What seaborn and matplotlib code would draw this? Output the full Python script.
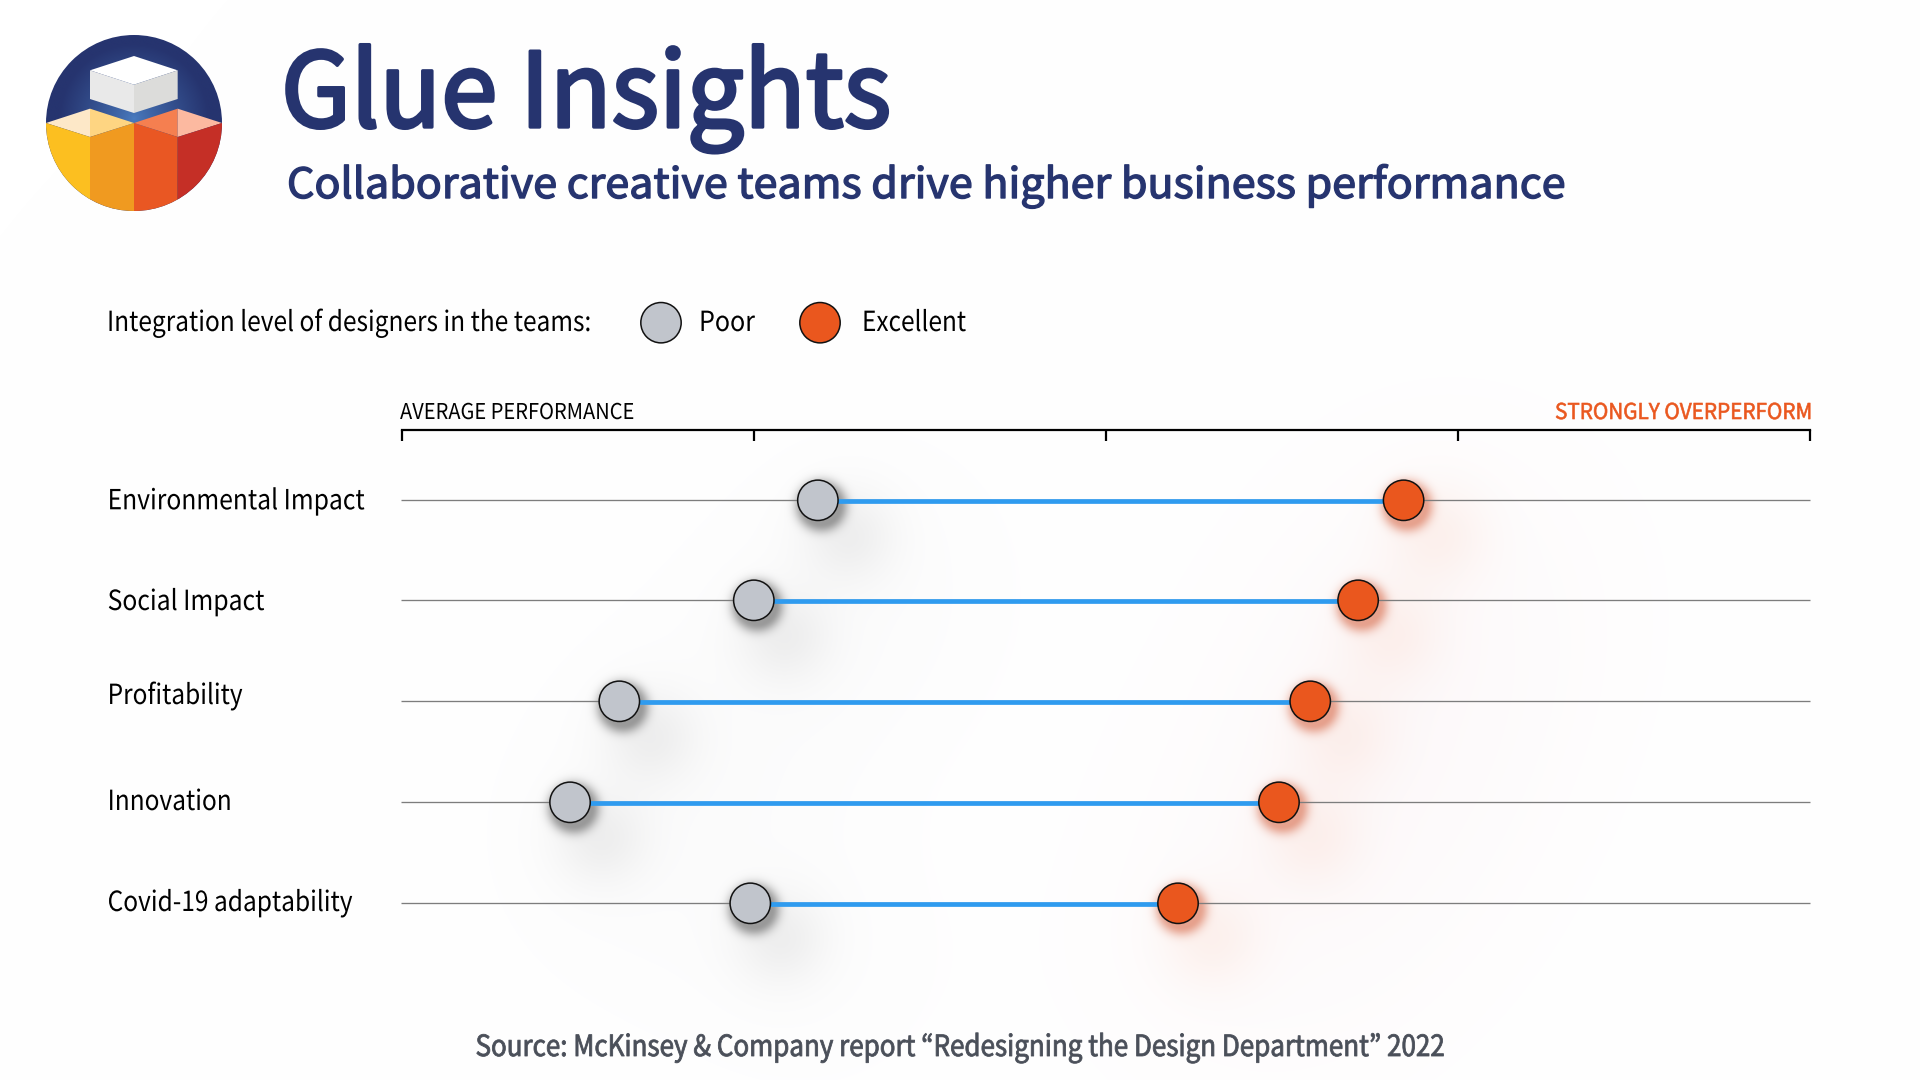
import numpy as np
import pandas as pd
import matplotlib
matplotlib.use("Agg")
import matplotlib.pyplot as plt
import seaborn as sns
from matplotlib.patches import Circle, Polygon
from matplotlib.patheffects import AbstractPathEffect
from matplotlib.transforms import Affine2D

# ---- data ----
metrics = ["Environmental Impact", "Social Impact", "Profitability", "Innovation", "Covid-19 adaptability"]
poor = [29.55, 25.0, 15.45, 11.95, 24.75]
excellent = [71.15, 67.92, 64.52, 62.3, 55.13]
legend_title = "Integration level of designers in the teams:"
legend_labels = ["Poor", "Excellent"]
axis_ticks = [0, 25, 50, 75, 100]

NAVY = "#26346f"
GREY = "#c1c5cc"
ORANGE = "#ea571e"
BLUE = "#2f9bef"
FONT = "Noto Sans CJK SC"
FONT_KR = "Noto Sans CJK KR"   # proportional curly quotes

sns.set_theme(style="white")
plt.rcParams["font.family"] = [FONT, "DejaVu Sans"]

W, H = 1920, 1080
fig = plt.figure(figsize=(W / 100, H / 100), dpi=100, facecolor="white")

# background layer, pixel overlay, chart axes
bg = fig.add_axes([0, 0, 1, 1], zorder=0)
bg.axis("off")
ax = fig.add_axes([401.8 / W, 1 - 950 / H, (1809.8 - 401.8) / W, (950 - 430) / H], zorder=1, facecolor="none")
px = fig.add_axes([0, 0, 1, 1], zorder=2, facecolor="none")
px.set_xlim(0, W)
px.set_ylim(H, 0)
px.axis("off")

# ---- chart ----
row_pos = [500.3, 600.3, 701.3, 802.3, 903.3]
wide = pd.DataFrame({"row": row_pos, "Poor": poor, "Excellent": excellent, "metric": metrics})
long = wide.melt(id_vars=["row", "metric"], value_vars=["Poor", "Excellent"], var_name="level", value_name="score")

ax.hlines(row_pos, -0.08, 100, color="#7d7d7d", lw=0.95, zorder=1, clip_on=False)
sns.lineplot(data=long, x="score", y="row", units="metric", estimator=None, orient="y",
             sort=False, color=BLUE, lw=3.4, legend=False, ax=ax, zorder=2)
for ln in ax.get_lines():
    ln.set_transform(ln.get_transform() + Affine2D().translate(0, -0.5))
    ln.set_solid_capstyle("butt")
sns.scatterplot(data=long, x="score", y="row", hue="level", palette={"Poor": GREY, "Excellent": ORANGE},
                s=845, edgecolor="#111111", linewidth=1.1, legend=False, ax=ax, zorder=3, clip_on=False)

ax.set_xlim(0, 100)
ax.set_ylim(950, 430)
ax.set_xlabel("")
ax.set_ylabel("")
ax.set_yticks([])
ax.set_xticks(axis_ticks)
ax.tick_params(axis="x", top=True, bottom=False, labeltop=False, labelbottom=False,
               direction="in", length=7.8, width=1.6, color="black")
for s in ["left", "right", "bottom"]:
    ax.spines[s].set_visible(False)
ax.spines["top"].set_linewidth(1.6)
ax.spines["top"].set_color("black")

# ---- soft shadows, placed from the data through the axes transform ----
yy, xx = np.mgrid[0:H, 0:W]
img = np.ones((H, W, 3))


def shade(cx, cy, r, sigma, amp, col):
    global img
    d = np.hypot(xx - cx, yy - cy) - r
    a = amp * np.exp(-(np.clip(d, 0, None) / sigma) ** 2)
    img = img * (1 - a[..., None]) + np.array(col) * a[..., None]


fig.canvas.draw()
for vals, layers in (
    (poor, [(60, 60, 0, 150, .010, (.3, .3, .35)), (30, 35, 0, 46, .075, (.25, .25, .25)), (3, 5, 18, 9, .46, (.2, .2, .2))]),
    (excellent, [(60, 60, 0, 190, .014, (.8, .45, .55)), (32, 34, 0, 50, .07, (.93, .38, .15)), (3, 5, 18, 9, .46, (.8, .26, .1))]),
):
    for v, r_ in zip(vals, row_pos):
        pxx, pyy = ax.transData.transform((v, r_))
        pyy = H - pyy
        for dx, dy, rad, sig, amp, col in layers:
            shade(pxx + dx, pyy + dy, rad, sig, amp, col)
bg.imshow(img, extent=(0, 1, 0, 1), aspect="auto", interpolation="bilinear")
bg.set_xlim(0, 1)
bg.set_ylim(0, 1)


# ---- text helper: tight tracking via a horizontal squeeze of the glyph outlines,
#      optional thin outline to stand in for the medium weight ----
class Squeeze(AbstractPathEffect):
    def __init__(self, sx, stroke=0.0):
        super().__init__()
        self.sx = sx
        self.stroke = stroke

    def draw_path(self, renderer, gc, tpath, affine, rgbFace=None):
        tr = Affine2D().scale(self.sx, 1) + affine
        gc2 = renderer.new_gc()
        gc2.copy_properties(gc)
        if self.stroke > 0:
            gc2.set_linewidth(self.stroke)
            gc2.set_foreground(rgbFace)
        renderer.draw_path(gc2, tpath, tr, rgbFace)
        gc2.restore()


def label(x, y, s, size, width, color="black", stroke=0.0, family=FONT):
    t = px.text(x, y, s, fontsize=size, color=color, family=[family, "DejaVu Sans"],
                ha="left", va="baseline")
    w = t.get_window_extent(fig.canvas.get_renderer()).width
    t.set_path_effects([Squeeze(width / w, stroke)])
    return t


label(281, 127, "Glue Insights", 74.5, 610, NAVY, 2.4)
label(287, 198, "Collaborative creative teams drive higher business performance", 30, 1278, NAVY, 1.0)
label(107, 331, legend_title, 20, 484)
label(699, 331, legend_labels[0], 20, 56)
label(862, 331, legend_labels[1], 20, 104)
label(400, 419, "AVERAGE PERFORMANCE", 15.7, 235)
label(1555, 419, "STRONGLY OVERPERFORM", 15.7, 258, ORANGE, 0.45)
baselines = [509.3, 610, 704, 810, 911]
widths = [257, 157, 135, 124, 245]
for name, b, wd in zip(metrics, baselines, widths):
    label(107.6, b, name, 20, wd)
label(475.5, 1056, "Source: McKinsey & Company report \u201cRedesigning the Design Department\u201d 2022",
      21, 968, "#4a4f59", 0.6, FONT_KR)

# legend dots
px.scatter([661, 820], [322.7, 322.7], s=845, c=[GREY, ORANGE], edgecolors="#111111", linewidths=1.1, zorder=3)

# ---- logo ----
cx, cy, R = 134, 123, 88
clip = Circle((cx, cy), R, transform=px.transData)
gy, gx = np.mgrid[-1:1:256j, -1:1:256j]
dist = np.hypot(gx, gy + 0.05)
c0, c1 = np.array([0x4a, 0x7c, 0xc0]) / 255, np.array([0x26, 0x34, 0x6f]) / 255
t_ = np.clip(dist / 0.85, 0, 1)[..., None] ** 0.8
grad = c0 * (1 - t_) + c1 * t_
im = px.imshow(grad, extent=(cx - R, cx + R, cy + R, cy - R), aspect="auto", zorder=1)
im.set_clip_path(clip)
px.set_xlim(0, W)
px.set_ylim(H, 0)


def z(p):
    return [(a / 3 + 20, b / 3 + 20) for a, b in p]


polys = [
    ([(342, 108), (473, 151), (342, 194), (210, 151)], "#ffffff"),
    ([(210, 151), (342, 194), (342, 279), (210, 237)], "#e9e9e9"),
    ([(342, 194), (473, 151), (473, 237), (342, 279)], "#dcdcda"),
    ([(78, 309), (210, 266), (210, 351)], "#fde8c8"),
    ([(210, 266), (342, 309), (210, 351)], "#fed582"),
    ([(342, 309), (473, 266), (473, 351)], "#f57f50"),
    ([(473, 266), (606, 309), (473, 351)], "#fcb9a0"),
    ([(78, 309), (210, 351), (210, 600), (78, 600)], "#fcbf20"),
    ([(210, 351), (342, 309), (342, 600), (210, 600)], "#f09a20"),
    ([(342, 309), (473, 351), (473, 600), (342, 600)], "#e95723"),
    ([(473, 351), (606, 309), (606, 600), (473, 600)], "#c52f26"),
]
for p, c in polys:
    pg = Polygon(z(p), closed=True, facecolor=c, edgecolor="none", zorder=2)
    px.add_patch(pg)
    pg.set_clip_path(clip)

fig.savefig("out.png", dpi=100, facecolor="white")
